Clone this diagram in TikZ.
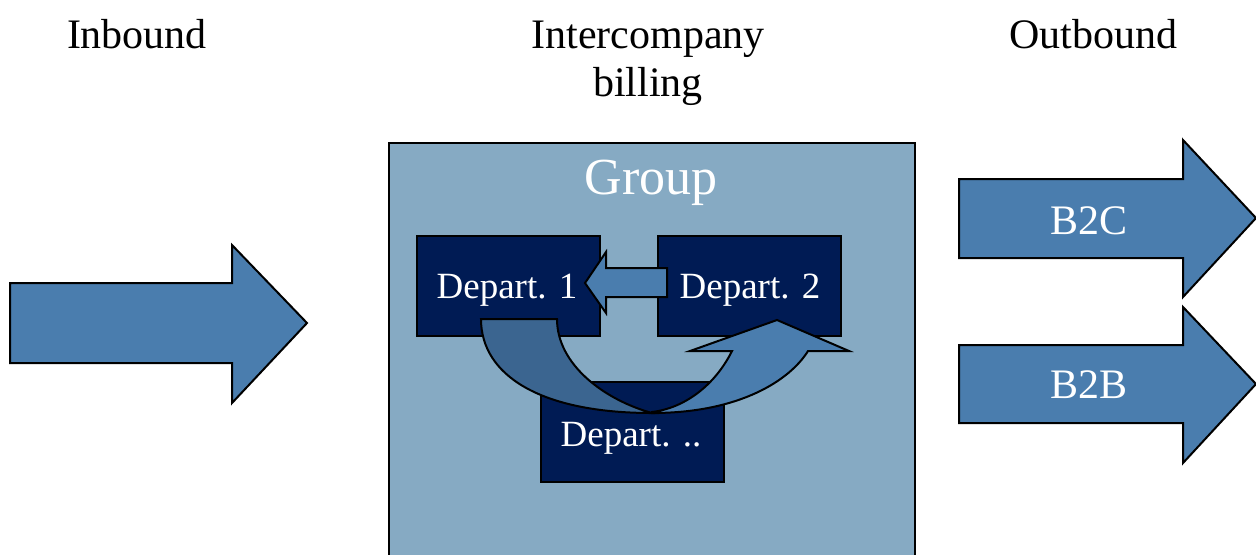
\documentclass[tikz,border=0pt]{standalone}
\usepackage{fontspec}
\setmainfont{Liberation Serif}
\definecolor{arrowblue}{HTML}{4A7DAE}
\definecolor{groupblue}{HTML}{86AAC3}
\definecolor{deptblue}{HTML}{001B54}
\definecolor{curvedark}{HTML}{3B6590}
\begin{document}
\begin{tikzpicture}[x=0.5pt,y=-0.5pt,line join=miter]
\useasboundingbox (0,0) rectangle (1256,554);
\tikzset{
  blockarrow/.style={fill=arrowblue,draw=black,line width=1pt},
  darkarrow/.style={fill=curvedark,draw=black,line width=1pt},
  deptbox/.style={fill=deptblue,draw=black,line width=1pt,inner sep=0pt,anchor=north west,
    minimum width=91.5pt,minimum height=50pt,text=white,font=\fontsize{18.5}{22}\selectfont},
  groupbox/.style={fill=groupblue,draw=black,line width=1pt,inner sep=0pt,anchor=north west,
    minimum width=263pt,minimum height=212pt},
  heading/.style={font=\fontsize{21}{25}\selectfont,text=black,anchor=base},
  whitelbl/.style={text=white,anchor=base}
}
% headings
\node[heading] (inb) at (137,48) {Inbound};
\node[heading] (ic1) at (648,48) {Intercompany};
\node[heading] (ic2) at (648,96) {billing};
\node[heading] (outb) at (1093,48) {Outbound};
% inbound arrow
\draw[blockarrow] (10,283) -- (232,283) -- (232,245) -- (307,323) -- (232,403) -- (232,363) -- (10,363) -- cycle;
\coordinate (inbtip) at (307,323);
% group
\node[groupbox] (group) at (388,142) {};
\node[whitelbl,font=\fontsize{26}{30}\selectfont] (grouplbl) at (651,194) {Group};
% departments
\node[deptbox] (d3) at (540,381) {};
\node[whitelbl,font=\fontsize{18.5}{22}\selectfont] (d3lbl) at (631,446) {Depart. ..};
\node[deptbox] (d1) at (416,235) {};
\node[whitelbl,font=\fontsize{18.5}{22}\selectfont] (d1lbl) at (507,298) {Depart. 1};
\node[deptbox] (d2) at (657,235) {};
\node[whitelbl,font=\fontsize{18.5}{22}\selectfont] (d2lbl) at (750,298) {Depart. 2};
% straight arrow d2 -> d1
\draw[blockarrow] (667,268) -- (606,268) -- (606,252) -- (585,283) -- (606,313) -- (606,297) -- (667,297) -- cycle;
% curved arrow: dark underside
\draw[darkarrow] (481,319) .. controls (481,375) and (540,413) .. (652,413)
  .. controls (605,400) and (557,365) .. (557,319) -- cycle;
% curved arrow: light part with head
\draw[blockarrow] (652,413) .. controls (740,413) and (790,380) .. (808,351)
  -- (849,351) -- (777,320) -- (690,351) -- (732,351)
  .. controls (715,385) and (685,408) .. (652,412) -- cycle;
% outbound arrows
\draw[blockarrow] (959,179) -- (1183,179) -- (1183,140) -- (1256,218) -- (1183,297) -- (1183,258) -- (959,258) -- cycle;
\node[whitelbl,font=\fontsize{21}{25}\selectfont] (b2c) at (1089,234) {B2C};
\draw[blockarrow] (959,345) -- (1183,345) -- (1183,307) -- (1256,384) -- (1183,463) -- (1183,423) -- (959,423) -- cycle;
\node[whitelbl,font=\fontsize{21}{25}\selectfont] (b2b) at (1089,398) {B2B};
\end{tikzpicture}
\end{document}
